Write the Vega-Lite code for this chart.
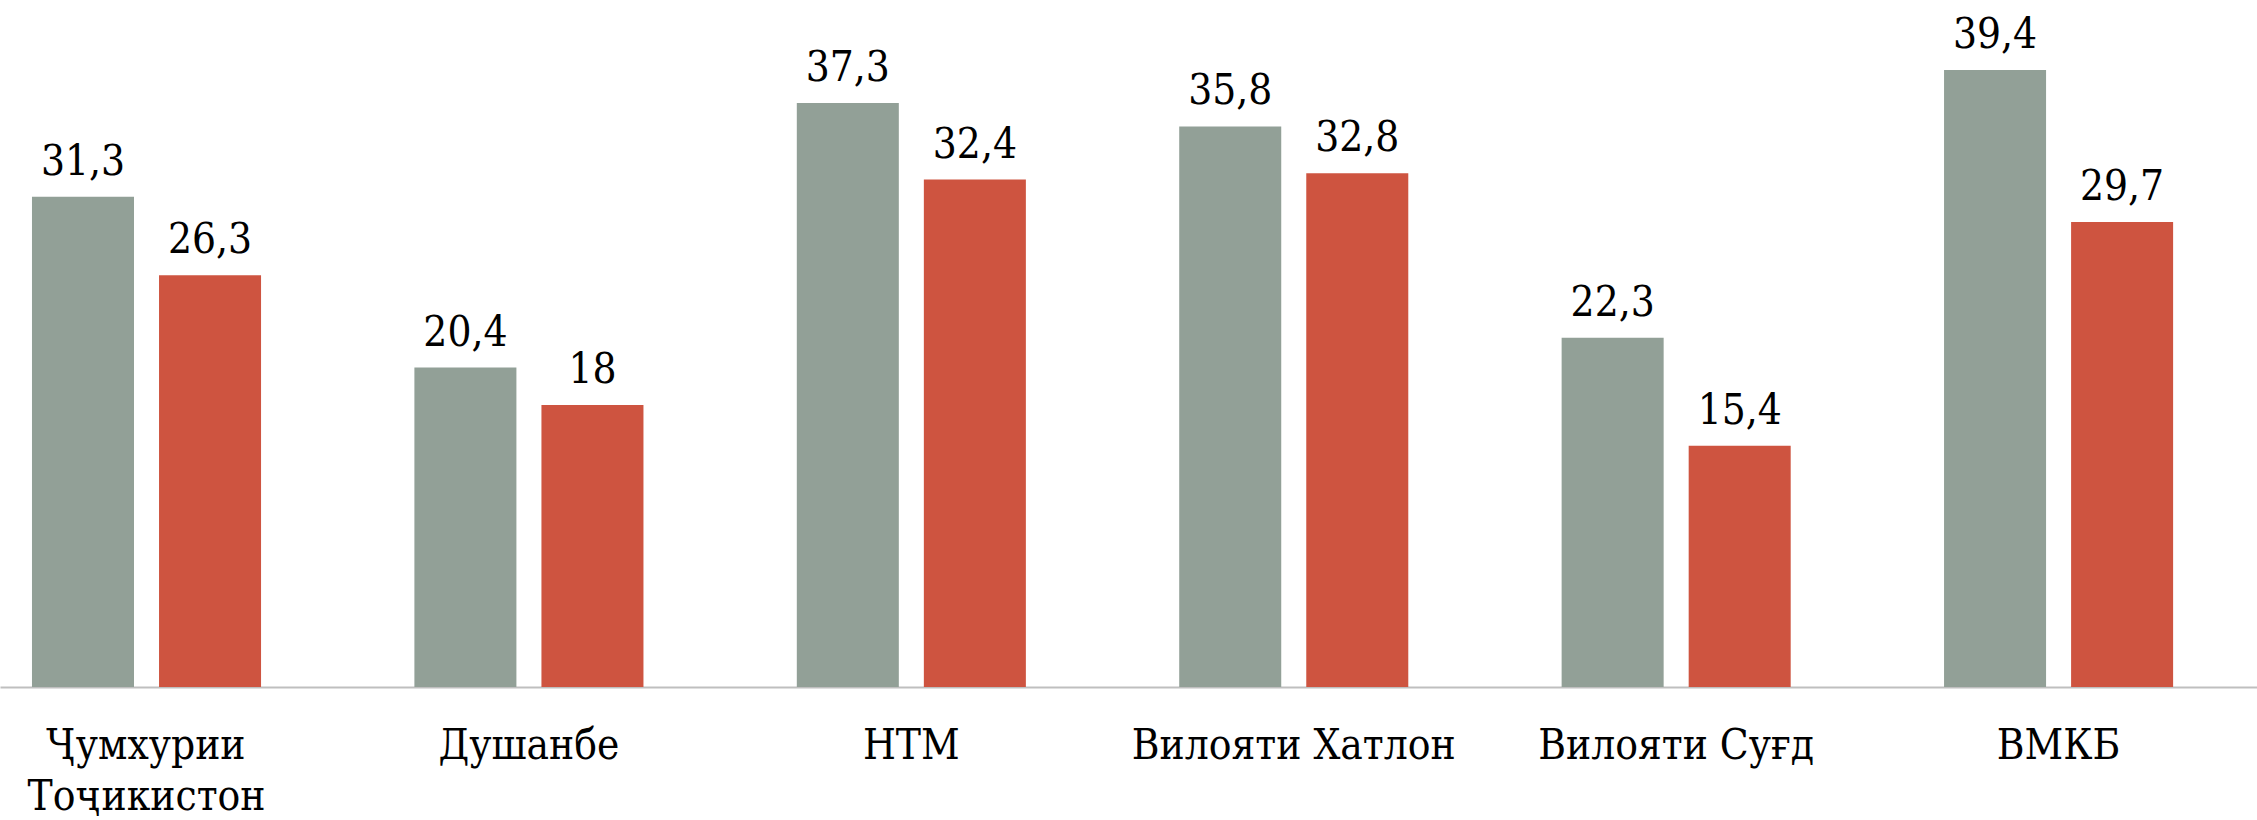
{
  "$schema": "https://vega.github.io/schema/vega-lite/v6.json",
  "width": 2257,
  "height": 687,
  "autosize": "none",
  "padding": {"left": 0, "top": 0, "right": 0, "bottom": 133},
  "background": "white",
  "config": {
    "view": {"stroke": null},
    "locale": {"number": {"decimal": ",", "thousands": " ", "grouping": [3], "currency": ["", ""]}}
  },
  "data": {
    "values": [
      {"region": "Ҷумхурии Тоҷикистон", "series": "s1", "value": 31.3},
      {"region": "Ҷумхурии Тоҷикистон", "series": "s2", "value": 26.3},
      {"region": "Душанбе", "series": "s1", "value": 20.4},
      {"region": "Душанбе", "series": "s2", "value": 18},
      {"region": "НТМ", "series": "s1", "value": 37.3},
      {"region": "НТМ", "series": "s2", "value": 32.4},
      {"region": "Вилояти Хатлон", "series": "s1", "value": 35.8},
      {"region": "Вилояти Хатлон", "series": "s2", "value": 32.8},
      {"region": "Вилояти Суғд", "series": "s1", "value": 22.3},
      {"region": "Вилояти Суғд", "series": "s2", "value": 15.4},
      {"region": "ВМКБ", "series": "s1", "value": 39.4},
      {"region": "ВМКБ", "series": "s2", "value": 29.7}
    ]
  },
  "encoding": {
    "x": {
      "field": "region",
      "type": "nominal",
      "sort": null,
      "title": null,
      "scale": {"paddingInner": 0.401, "paddingOuter": 0.1515, "align": 0.276},
      "axis": {
        "labelAngle": 0,
        "ticks": false,
        "tickSize": 0,
        "domainColor": "#BFBFBF",
        "domainWidth": 2,
        "labelFont": "DejaVu Serif Condensed, DejaVu Serif",
        "labelFontSize": 42,
        "labelColor": "#000000",
        "labelBaseline": "alphabetic",
        "labelPadding": 71,
        "labelLineHeight": 51,
        "labelLimit": 0,
        "labelExpr": "datum.label == 'Ҷумхурии Тоҷикистон' ? ['Ҷумхурии', 'Тоҷикистон'] : datum.label"
      }
    },
    "xOffset": {
      "field": "series",
      "type": "nominal",
      "scale": {"paddingInner": 0.197, "paddingOuter": 0}
    },
    "y": {
      "field": "value",
      "type": "quantitative",
      "scale": {"domain": [0, 43.87], "nice": false, "zero": true},
      "axis": null
    }
  },
  "layer": [
    {
      "mark": {"type": "bar"},
      "encoding": {
        "color": {
          "field": "series",
          "type": "nominal",
          "scale": {"domain": ["s1", "s2"], "range": ["#92A097", "#CE5440"]},
          "legend": null
        }
      }
    },
    {
      "mark": {"type": "text", "baseline": "alphabetic", "dy": -22, "font": "DejaVu Serif Condensed, DejaVu Serif", "fontSize": 42, "color": "#000000"},
      "encoding": {
        "text": {"field": "value", "type": "quantitative", "format": ".3~r"}
      }
    }
  ]
}
